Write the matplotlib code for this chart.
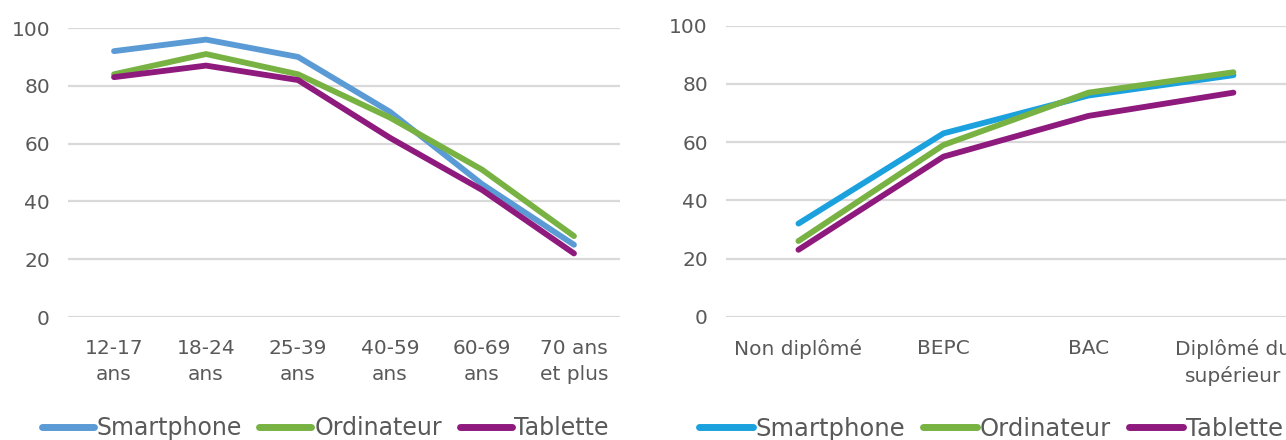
import matplotlib.pyplot as plt

# Taux d'équipement (%) par tranche d'âge
age_labels = ["12-17\nans", "18-24\nans", "25-39\nans", "40-59\nans", "60-69\nans", "70 ans\net plus"]
age_smartphone = [92, 96, 90, 71, 46, 25]
age_ordinateur = [84, 91, 84, 69, 51, 28]
age_tablette = [83, 87, 82, 62, 44, 22]

# Taux d'équipement (%) par diplôme
dipl_labels = ["Non diplômé", "BEPC", "BAC", "Diplômé du\nsupérieur"]
dipl_smartphone = [32, 63, 76, 83]
dipl_ordinateur = [26, 59, 77, 84]
dipl_tablette = [23, 55, 69, 77]

series_names = ["Smartphone", "Ordinateur", "Tablette"]

TEXT = "#595959"
GRID = "#D9D9D9"

plt.rcParams['font.family'] = ['DejaVu Sans']


def draw_panel(ax, labels, series, colors, legend_x, legend_size):
    x = range(len(labels))
    for values, name, color in zip(series, series_names, colors):
        ax.plot(x, values, color=color, lw=4.2, label=name, solid_capstyle='round')
    ax.set_xlim(-0.5, len(labels) - 0.5)
    ax.set_ylim(0, 100)
    ax.set_yticks(range(0, 101, 20))
    ax.set_xticks(list(x))
    ax.set_xticklabels(labels, linespacing=1.45)
    ax.grid(axis='y', color=GRID, lw=1.6)
    ax.set_axisbelow(True)
    for s in ax.spines.values():
        s.set_visible(False)
    ax.tick_params(axis='both', length=0, colors=TEXT, labelsize=14.5)
    ax.tick_params(axis='x', pad=16)
    ax.tick_params(axis='y', pad=13)
    leg = ax.legend(loc='center', bbox_to_anchor=(legend_x, -0.385), ncol=3, frameon=False,
                    fontsize=legend_size, handlelength=2.2, handletextpad=0.12,
                    columnspacing=0.75, borderaxespad=0)
    for t in leg.get_texts():
        t.set_color(TEXT)
    for h in leg.get_lines():
        h.set_linewidth(5)


fig = plt.figure(figsize=(12.86, 4.40), dpi=100)

ax1 = fig.add_axes([0.0529, 0.2795, 0.4292, 0.6568])
draw_panel(ax1, age_labels, [age_smartphone, age_ordinateur, age_tablette],
           ["#5B9BD5", "#78B243", "#8E1A7E"], 0.466, 17)

ax2 = fig.add_axes([0.5645, 0.2802, 0.4510, 0.6614])
draw_panel(ax2, dipl_labels, [dipl_smartphone, dipl_ordinateur, dipl_tablette],
           ["#1BA1DE", "#78B243", "#8E1A7E"], 0.457, 17.5)

fig.savefig("out.png", dpi=100)
